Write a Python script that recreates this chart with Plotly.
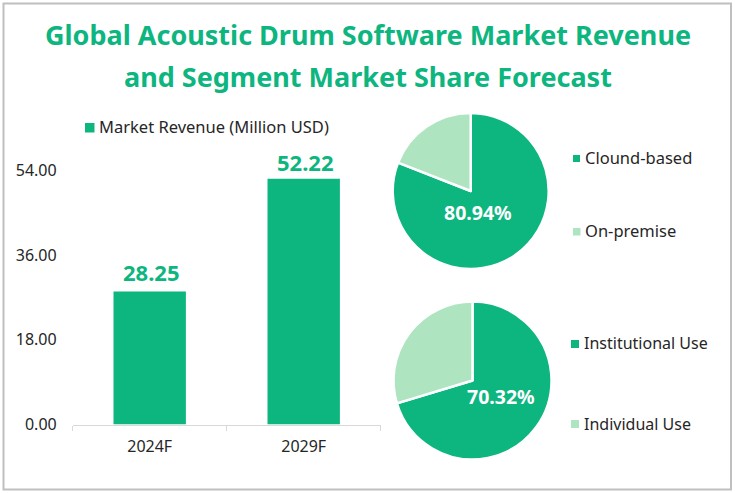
import plotly.graph_objects as go

W, H = 735, 493
GREEN = "#0DB57F"
LIGHT = "#AEE5C0"
INK = "#262626"
FONT = "Noto Sans"

title_lines = ["Global Acoustic Drum Software Market Revenue", "and Segment Market Share Forecast"]
years = ["2024F", "2029F"]
revenue = [28.25, 52.22]
y_ticks = [0, 18, 36, 54]
bar_legend = "Market Revenue (Million USD)"
deploy_labels = ["Clound-based", "On-premise"]
deploy_share = [80.94, 19.06]
use_labels = ["Institutional Use", "Individual Use"]
use_share = [70.32, 29.68]


def px(x):
    return x / W


def py(y):
    return 1 - y / H


fig = go.Figure()
fig.add_trace(go.Bar(x=years, y=revenue, width=0.47, marker=dict(color=GREEN, line_width=0),
                     showlegend=False, hoverinfo="x+y"))


def add_pie(labels, values, cx, cy, r):
    fig.add_trace(go.Pie(labels=labels, values=values, sort=False, direction="clockwise", rotation=0,
                         marker=dict(colors=[GREEN, LIGHT], line=dict(color="white", width=2.5)),
                         textinfo="none", showlegend=False,
                         domain=dict(x=[px(cx - r), px(cx + r)], y=[py(cy + r), py(cy - r)])))


add_pie(deploy_labels, deploy_share, 470.7, 191, 78)
add_pie(use_labels, use_share, 472.5, 380.5, 79)

ann = []


def text(x, y, s, size=15, color=INK, bold=False, anchor="left"):
    ann.append(dict(xref="paper", yref="paper", x=px(x), y=py(y), text=f"<b>{s}</b>" if bold else s,
                    showarrow=False, xanchor=anchor, yanchor="middle",
                    font=dict(family=FONT, size=size, color=color)))


text(368, 35, title_lines[0], 27, GREEN, True, "center")
text(368, 76.5, title_lines[1], 27, GREEN, True, "center")
text(97, 127, bar_legend, 16.5)
text(583, 157.5, deploy_labels[0], 16.5)
text(583, 230.5, deploy_labels[1], 16.5)
text(582, 343, use_labels[0], 16)
text(582, 424, use_labels[1], 16)
text(478, 212, f"{deploy_share[0]:.2f}%", 19.5, "white", True, "center")
text(500.7, 396, f"{use_share[0]:.2f}%", 19.5, "white", True, "center")

for yr, v, shift in zip(years, revenue, (3, 0)):
    ann.append(dict(xref="x", yref="y", x=yr, y=v, text=f"<b>{v:.2f}</b>", showarrow=False,
                    yanchor="bottom", yshift=shift, xshift=2,
                    font=dict(family=FONT, size=22, color=GREEN)))

shapes = [dict(type="rect", xref="paper", yref="paper", x0=px(3.5), x1=px(731), y0=py(489.5), y1=py(3.5),
               line=dict(color="#BFBFBF", width=2), fillcolor="rgba(0,0,0,0)", layer="below")]
for x0, y0, s, c in [(85, 123, 9.5, GREEN), (573, 155, 7, GREEN), (573, 228, 7.5, LIGHT),
                     (571, 340, 8, GREEN), (571, 420, 8, LIGHT)]:
    shapes.append(dict(type="rect", xref="paper", yref="paper", x0=px(x0), x1=px(x0 + s),
                       y0=py(y0 + s), y1=py(y0), fillcolor=c, line_width=0))

fig.update_layout(
    width=W, height=H, margin=dict(l=0, r=0, t=0, b=0), paper_bgcolor="white", plot_bgcolor="white",
    font=dict(family=FONT, size=15, color=INK), annotations=ann, shapes=shapes,
    xaxis=dict(domain=[px(72.7), px(380.7)], type="category", tickson="boundaries", ticks="outside",
               ticklen=5, tickcolor="#D9D9D9", showline=True, linecolor="#D9D9D9", linewidth=1,
               showgrid=False, automargin=False, ticklabelstandoff=7,
               tickfont=dict(family=FONT, size=16, color=INK)),
    yaxis=dict(domain=[py(424.5), py(170.5)], range=[0, 54], tickmode="array", tickvals=y_ticks,
               ticktext=[f"{t:.2f}" for t in y_ticks], showgrid=False, zeroline=False, showline=False,
               automargin=False, ticks="", ticklabelstandoff=15,
               tickfont=dict(family=FONT, size=16, color=INK)),
)
fig.write_html("out.html", config=dict(displayModeBar=False),
               post_script="document.body.style.margin='0';document.body.style.overflow='hidden';")
